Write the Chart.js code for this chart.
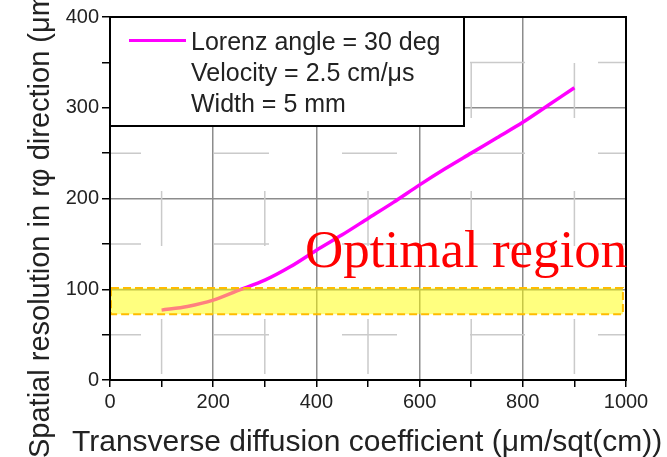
<!DOCTYPE html>
<html>
<head>
<meta charset="utf-8">
<script src="https://cdn.jsdelivr.net/npm/chart.js@4/dist/chart.umd.min.js"></script>
<style>
  html, body { margin: 0; padding: 0; background: #fff; }
  canvas { display: block; }
</style>
</head>
<body>
<canvas id="chart" width="667" height="457"></canvas>
<script>
// transverse diffusion (um/sqrt(cm)) vs. r-phi resolution (um)
const diffusion = [100, 150, 200, 250, 300, 350, 400, 450, 500, 550, 600, 650, 700, 750, 800, 850, 900];
const resolution = [77, 81, 88, 99, 110, 125, 143, 160, 178, 196, 215, 233, 250, 267, 284, 303, 322];

// optimal band, in data units
const bandX = [0, 994];
const bandY = [72.5, 101.5];

const xTicks = [0, 100, 200, 300, 400, 500, 600, 700, 800, 900, 1000];
const yTicks = [0, 50, 100, 150, 200, 250, 300, 350, 400];
const xMinor = [100, 300, 500, 700, 900];
const yMinor = [50, 150, 250, 350];

const legendLines = ['Lorenz angle = 30 deg', 'Velocity = 2.5 cm/\u03bcs', 'Width = 5 mm'];
const xTitle = 'Transverse diffusion coefficient (\u03bcm/sqt(cm))';
const yTitle = 'Spatial resolution in r\u03c6 direction (\u03bcm)';
const bandLabel = 'Optimal region';

const sans = 'Liberation Sans, Arial, sans-serif';
const textColor = '#222';

const decor = {
  id: 'decor',
  beforeDatasetsDraw(chart) {
    const { ctx, chartArea: a, scales: { x, y } } = chart;
    ctx.save();
    ctx.strokeStyle = '#cacaca';
    ctx.lineWidth = 1.5;
    ctx.setLineDash([55, 73]);
    xMinor.forEach(v => {
      const px = x.getPixelForValue(v);
      ctx.lineDashOffset = 82;
      ctx.beginPath(); ctx.moveTo(px, a.top); ctx.lineTo(px, a.bottom); ctx.stroke();
    });
    yMinor.forEach(v => {
      const py = y.getPixelForValue(v);
      ctx.lineDashOffset = 24;
      ctx.beginPath(); ctx.moveTo(a.left, py); ctx.lineTo(a.right, py); ctx.stroke();
    });
    ctx.restore();
  },
  afterDatasetsDraw(chart) {
    const { ctx, chartArea: a, scales: { x, y } } = chart;
    ctx.save();

    // yellow band over the curve
    const bx0 = x.getPixelForValue(bandX[0]), bx1 = x.getPixelForValue(bandX[1]);
    const by0 = y.getPixelForValue(bandY[1]), by1 = y.getPixelForValue(bandY[0]);
    ctx.fillStyle = 'rgba(255, 255, 0, 0.5)';
    ctx.fillRect(bx0, by0, bx1 - bx0, by1 - by0);
    ctx.strokeStyle = '#ffbc00';
    ctx.lineWidth = 2;
    ctx.setLineDash([8, 4]);
    ctx.strokeRect(bx0 + 1, by0, bx1 - bx0 - 1, by1 - by0);
    ctx.setLineDash([]);

    // frame
    ctx.strokeStyle = '#000';
    ctx.lineWidth = 2;
    ctx.strokeRect(a.left, a.top, a.right - a.left, a.bottom - a.top);

    ctx.fillStyle = '#ff0000';
    ctx.font = '53px Liberation Serif, Times New Roman, serif';
    ctx.textBaseline = 'alphabetic';
    ctx.textAlign = 'left';
    ctx.fillText(bandLabel, 305, 267);

    // legend box
    const lx = a.left, ly = a.top, lw = 354, lh = 109;
    ctx.fillStyle = '#fff';
    ctx.fillRect(lx, ly, lw, lh);
    ctx.strokeRect(lx, ly, lw, lh);
    ctx.strokeStyle = chart.data.datasets[0].borderColor;
    ctx.lineWidth = 3;
    ctx.beginPath(); ctx.moveTo(129, 40.5); ctx.lineTo(186, 40.5); ctx.stroke();
    ctx.fillStyle = textColor;
    ctx.font = '25px ' + sans;
    legendLines.forEach((t, i) => ctx.fillText(t, 191, 49.5 + i * 31));

    // axis titles
    ctx.font = '30px ' + sans;
    ctx.fillText(xTitle, 72, 451);
    ctx.font = '29px ' + sans;
    ctx.translate(49, 458);
    ctx.rotate(-Math.PI / 2);
    ctx.fillText(yTitle, 0, 0);
    ctx.restore();
  }
};

new Chart(document.getElementById('chart'), {
  type: 'line',
  data: {
    datasets: [{
      data: diffusion.map((d, i) => ({ x: d, y: resolution[i] })),
      borderColor: '#ff00ff',
      borderWidth: 3.5,
      pointRadius: 0,
      tension: 0.3,
      fill: false
    }]
  },
  options: {
    responsive: false,
    animation: false,
    devicePixelRatio: 1,
    layout: { padding: { top: 17, right: 41, left: 0, bottom: 0 } },
    plugins: { legend: { display: false }, tooltip: { enabled: false } },
    scales: {
      x: {
        type: 'linear', min: 0, max: 1000,
        afterBuildTicks: s => { s.ticks = xTicks.map(v => ({ value: v })); },
        afterFit: s => { s.height = 77; },
        grid: {
          color: c => (c.tick && c.tick.value % 200 === 0) ? '#8c8c8c' : 'rgba(0,0,0,0)',
          lineWidth: 1.5, tickColor: '#000', tickLength: 7, tickWidth: 1.5
        },
        border: { color: '#000', width: 2 },
        ticks: {
          autoSkip: false, maxRotation: 0, padding: 3, color: textColor,
          font: { family: sans, size: 20 },
          callback: v => v % 200 === 0 ? String(v) : ''
        }
      },
      y: {
        type: 'linear', min: 0, max: 400,
        afterBuildTicks: s => { s.ticks = yTicks.map(v => ({ value: v })); },
        afterFit: s => { s.width = 110; },
        grid: {
          color: c => (c.tick && c.tick.value % 100 === 0) ? '#8c8c8c' : 'rgba(0,0,0,0)',
          lineWidth: 1.5, tickColor: '#000', tickLength: 8, tickWidth: 1.5
        },
        border: { color: '#000', width: 2 },
        ticks: {
          autoSkip: false, padding: 3, color: textColor,
          font: { family: sans, size: 20 },
          callback: v => v % 100 === 0 ? String(v) : ''
        }
      }
    }
  },
  plugins: [decor]
});
</script>
</body>
</html>
